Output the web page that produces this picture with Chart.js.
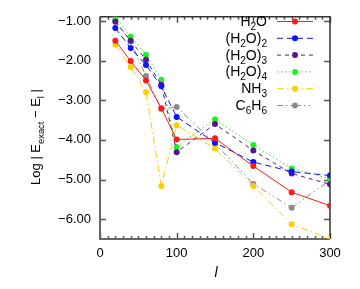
<!DOCTYPE html>
<html>
<head>
<meta charset="utf-8">
<script src="https://cdn.jsdelivr.net/npm/chart.js@4.4.1/dist/chart.umd.min.js"></script>
<style>
  html, body { margin: 0; padding: 0; background: #fff; }
  #wrap { width: 360px; height: 289px; position: relative; }
</style>
</head>
<body>
<div id="wrap"><canvas id="grafico"></canvas></div>
<script>
const xVals = [20, 40, 60, 80, 100, 150, 200, 250, 300];
const h2o  = [-1.50, -2.01, -2.50, -3.20, -3.99, -3.96, -4.66, -5.32, -5.66];
const h2o2 = [-1.18, -1.68, -2.11, -2.65, -3.42, -4.07, -4.56, -4.80, -4.90];
const h2o3 = [-1.02, -1.50, -1.98, -2.61, -4.31, -3.60, -4.27, -4.85, -5.12];
const h2o4 = [-0.88, -1.40, -1.85, -2.48, -4.18, -3.48, -4.13, -4.72, -4.98];
const nh3  = [-1.60, -2.16, -2.80, -5.16, -3.63, -4.22, -5.16, -6.13, -6.50];
const c6h6 = [-0.97, -1.52, -2.39, -3.22, -3.17, -4.09, -5.11, -5.71, -5.02];

const xTicks = [0, 100, 200, 300];
const yTicks = [-1, -2, -3, -4, -5, -6];

// legend labels as pieces, sub = subscript
const series = [
  { nome: [['H'], ['2', 1], ['O']], data: h2o, cor: '#ff1a1a', dash: [] },
  { nome: [['(H'], ['2', 1], ['O)'], ['2', 1]], data: h2o2, cor: '#0a14ff', dash: [6, 4] },
  { nome: [['(H'], ['2', 1], ['O)'], ['3', 1]], data: h2o3, cor: '#52198f', dash: [4, 4] },
  { nome: [['(H'], ['2', 1], ['O)'], ['4', 1]], data: h2o4, cor: '#22ee22', dash: [1.5, 2.5] },
  { nome: [['NH'], ['3', 1]], data: nh3, cor: '#ffcc00', dash: [7, 3, 1.5, 3] },
  { nome: [['C'], ['6', 1], ['H'], ['6', 1]], data: c6h6, cor: '#8c8c8c', dash: [6, 3, 1.5, 3, 1.5, 3] },
];

const FONT = '"Liberation Sans", Arial, sans-serif';

function textoSub(ctx, partes, x, y, size, align) {
  const sub = size * 0.72;
  let total = 0;
  partes.forEach(p => {
    ctx.font = `${p[1] ? sub : size}px ${FONT}`;
    total += ctx.measureText(p[0]).width;
  });
  let cx = align === 'right' ? x - total : (align === 'center' ? x - total / 2 : x);
  ctx.textAlign = 'left';
  ctx.textBaseline = 'alphabetic';
  partes.forEach(p => {
    ctx.font = `${p[1] ? sub : size}px ${FONT}`;
    ctx.fillText(p[0], cx, p[1] ? y + size * 0.28 : y);
    cx += ctx.measureText(p[0]).width;
  });
}

const moldura = {
  id: 'moldura',
  beforeDatasetsDraw(chart) {
    const { ctx, chartArea: a, scales } = chart;
    ctx.save();
    ctx.strokeStyle = '#555';
    ctx.lineWidth = 1.5;
    ctx.beginPath();
    for (let v = 0; v <= 300; v += 10) {
      const px = Math.round(scales.x.getPixelForValue(v)) + 0.5;
      const len = v % 100 === 0 ? 6 : 3;
      ctx.moveTo(px, a.bottom); ctx.lineTo(px, a.bottom - len);
      ctx.moveTo(px, a.top); ctx.lineTo(px, a.top + len);
    }
    yTicks.forEach(v => {
      const py = Math.round(scales.y.getPixelForValue(v)) + 0.5;
      ctx.moveTo(a.left, py); ctx.lineTo(a.left + 6, py);
      ctx.moveTo(a.right, py); ctx.lineTo(a.right - 6, py);
    });
    ctx.stroke();
    ctx.lineWidth = 2;
    ctx.strokeStyle = '#666';
    ctx.beginPath();
    ctx.moveTo(a.left, a.top); ctx.lineTo(a.left, a.bottom); ctx.lineTo(a.right, a.bottom);
    ctx.stroke();
    ctx.strokeStyle = '#333';
    ctx.lineWidth = 1.5;
    ctx.beginPath();
    ctx.moveTo(a.left, a.top); ctx.lineTo(a.right, a.top); ctx.lineTo(a.right, a.bottom);
    ctx.stroke();
    ctx.restore();
  },
  afterDraw(chart) {
    const { ctx } = chart;
    ctx.save();
    ctx.fillStyle = '#000';
    // legend
    series.forEach((s, i) => {
      const y = 21 + i * 16.8;
      textoSub(ctx, s.nome, 267, y + 5, 14, 'right');
      ctx.strokeStyle = s.cor;
      ctx.lineWidth = 1;
      ctx.setLineDash(s.dash);
      ctx.beginPath();
      ctx.moveTo(277, y + 0.5); ctx.lineTo(313, y + 0.5);
      ctx.stroke();
      ctx.setLineDash([]);
      ctx.fillStyle = s.cor;
      ctx.beginPath();
      ctx.arc(295, y + 0.5, 3, 0, Math.PI * 2);
      ctx.fill();
      ctx.fillStyle = '#000';
    });
    // x title
    ctx.font = `italic 14px ${FONT}`;
    ctx.textAlign = 'center';
    ctx.textBaseline = 'middle';
    ctx.fillText('l', 216, 273);
    // y title
    ctx.translate(35, 137);
    ctx.rotate(-Math.PI / 2);
    textoSub(ctx, [['Log | E'], ['exact', 1], [' \u2212 E'], ['l', 1], [' |']], 0, 5, 13, 'center');
    ctx.restore();
  }
};

new Chart(document.getElementById('grafico').getContext('2d'), {
  type: 'line',
  data: {
    datasets: series.map(s => ({
      label: s.nome.map(p => p[0]).join(''),
      data: xVals.map((x, k) => ({ x, y: s.data[k] })),
      borderColor: s.cor,
      backgroundColor: s.cor,
      borderWidth: 1,
      borderDash: s.dash,
      pointRadius: 3,
      pointBorderWidth: 0,
      tension: 0,
      fill: false,
    })),
  },
  options: {
    responsive: true,
    maintainAspectRatio: false,
    animation: false,
    layout: { padding: { top: 9, right: 30, left: 0, bottom: 0 } },
    plugins: { legend: { display: false }, tooltip: { enabled: false } },
    scales: {
      x: {
        type: 'linear',
        min: 0,
        max: 300,
        afterBuildTicks: sc => { sc.ticks = xTicks.map(v => ({ value: v })); },
        afterFit: sc => { sc.height = 50; },
        grid: { display: false, drawTicks: false },
        border: { display: false },
        ticks: { padding: 7, color: '#000', font: { size: 13, family: FONT } },
      },
      y: {
        min: -6.5,
        max: -0.895,
        afterBuildTicks: sc => { sc.ticks = yTicks.map(v => ({ value: v })); },
        afterFit: sc => { sc.width = 100; },
        grid: { display: false, drawTicks: false },
        border: { display: false },
        ticks: {
          padding: 9,
          color: '#000',
          font: { size: 13, family: FONT },
          callback: v => v.toFixed(2).replace('-', '\u2212'),
        },
      },
    },
  },
  plugins: [moldura],
});
</script>
</body>
</html>
